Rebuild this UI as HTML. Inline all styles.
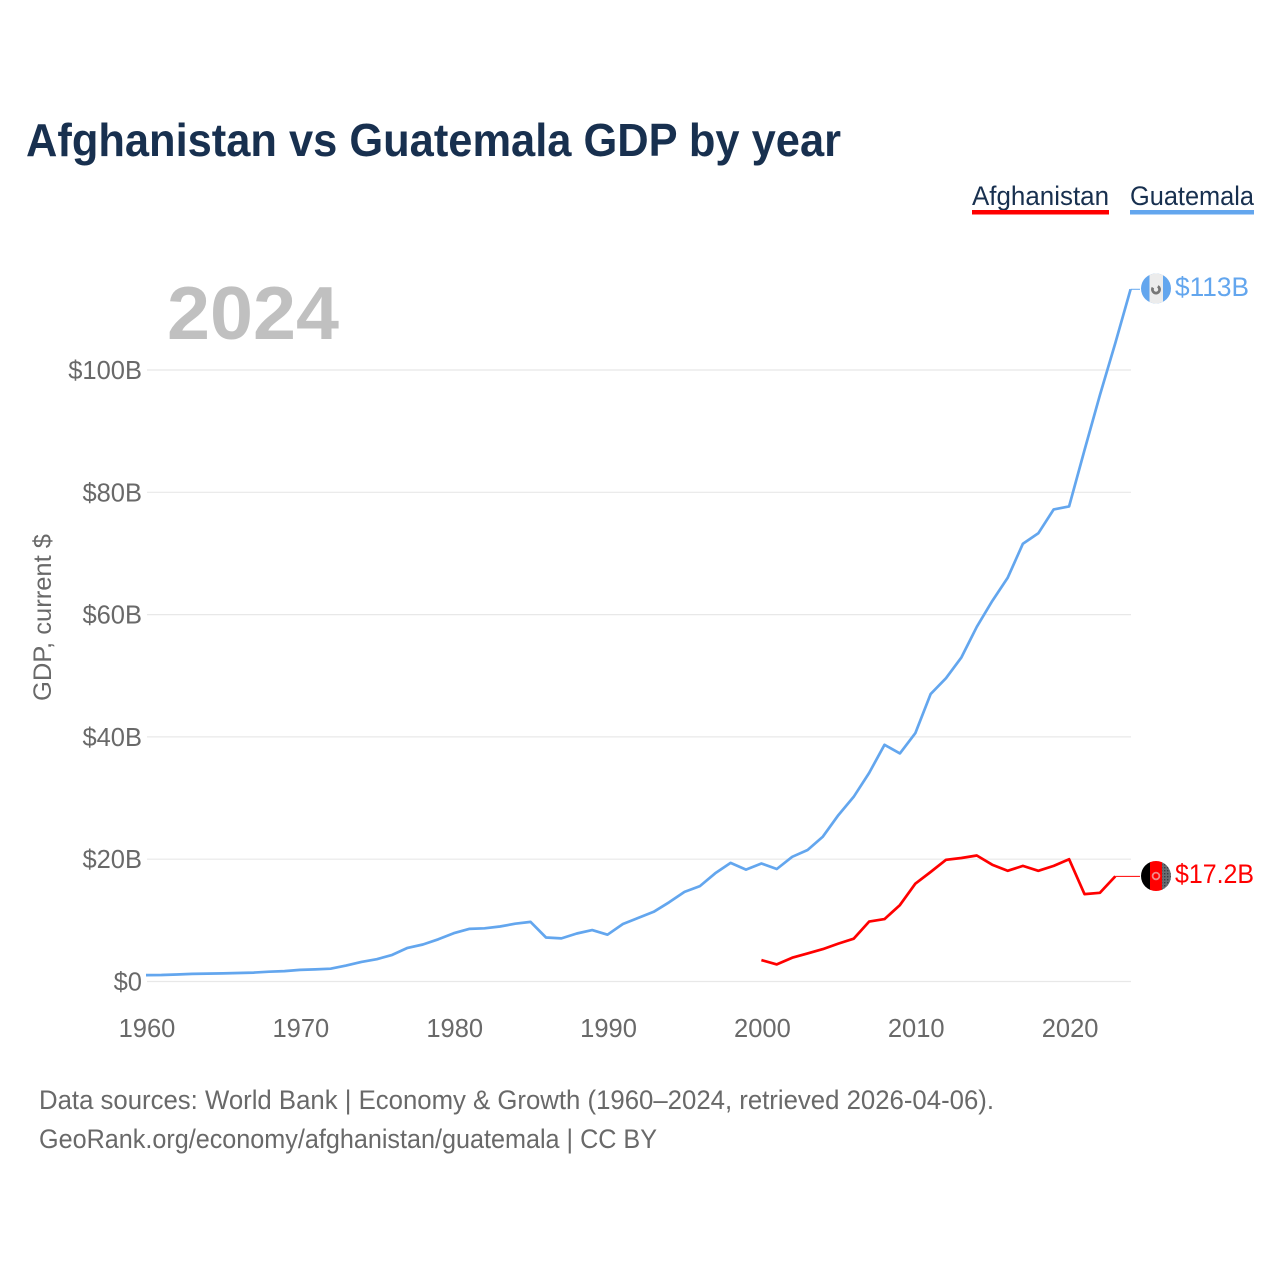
<!DOCTYPE html>
<html lang="en">
<head>
<meta charset="utf-8">
<title>Afghanistan vs Guatemala GDP by year</title>
<style>
html,body{margin:0;padding:0;background:#fff;width:1280px;height:1280px;overflow:hidden}
svg{display:block}
text{font-family:"Liberation Sans",sans-serif}
</style>
</head>
<body>
<svg id="chart" width="1280" height="1280" viewBox="0 0 1280 1280" xmlns="http://www.w3.org/2000/svg">
  <defs>
    <clipPath id="flag-clip-gt"><circle cx="1156" cy="288.5" r="15"/></clipPath>
    <clipPath id="flag-clip-af"><circle cx="1156" cy="876" r="15"/></clipPath>
    <pattern id="flag-dots" width="3" height="3" patternUnits="userSpaceOnUse"><rect width="3" height="3" fill="#6a6d72"/><rect width="1.4" height="1.4" fill="#3a3d44"/></pattern>
  </defs>
  <text x="26" y="156" font-size="46" font-weight="700" fill="#18304f" textLength="815" lengthAdjust="spacingAndGlyphs">Afghanistan vs Guatemala GDP by year</text>

  <g>
    <g>
      <text x="972" y="205" font-size="27" fill="#18304f" textLength="137" lengthAdjust="spacingAndGlyphs">Afghanistan</text>
      <rect x="972" y="210" width="137" height="4.5" fill="#ff0000"/>
    </g>
    <g>
      <text x="1130" y="205" font-size="27" fill="#18304f" textLength="124" lengthAdjust="spacingAndGlyphs">Guatemala</text>
      <rect x="1130" y="210" width="124" height="4.5" fill="#63a6ee"/>
    </g>
  </g>

  <text x="167" y="339" font-size="75" font-weight="700" fill="#c0c0c0" textLength="172" lengthAdjust="spacingAndGlyphs">2024</text>

  <text transform="translate(51,701) rotate(-90)" font-size="25" fill="#696969" textLength="167" lengthAdjust="spacingAndGlyphs">GDP, current $</text>

  <g id="grid"></g>
  <g id="yticks"></g>
  <g id="xticks"></g>
  <g id="series"></g>

  <g clip-path="url(#flag-clip-gt)">
    <rect x="1141" y="273" width="30" height="31" fill="#63a6ee"/>
    <rect x="1149.5" y="273" width="13.5" height="31" fill="#ececec"/>
    <circle cx="1156" cy="289.5" r="3.6" fill="none" stroke="#777" stroke-width="2.8" stroke-dasharray="17 6" transform="rotate(-60 1156 289.5)"/>
  </g>
  <g clip-path="url(#flag-clip-af)">
    <rect x="1141" y="861" width="9.5" height="30" fill="#000"/>
    <rect x="1150" y="861" width="12.5" height="30" fill="#ff0000"/>
    <rect x="1162" y="861" width="9" height="30" fill="url(#flag-dots)"/>
    <circle cx="1156" cy="876" r="3.4" fill="none" stroke="#f28a8a" stroke-width="1.8"/>
  </g>

  <text id="end-gt" x="1175" y="296" font-size="27" fill="#63a6ee" textLength="74" lengthAdjust="spacingAndGlyphs"></text>
  <text id="end-af" x="1175" y="883" font-size="27" fill="#ff0000" textLength="79" lengthAdjust="spacingAndGlyphs"></text>

  <text x="39" y="1109" font-size="27" fill="#696969" textLength="955" lengthAdjust="spacingAndGlyphs">Data sources: World Bank | Economy &amp; Growth (1960–2024, retrieved 2026-04-06).</text>
  <text x="39" y="1148" font-size="27" fill="#696969" textLength="618" lengthAdjust="spacingAndGlyphs">GeoRank.org/economy/afghanistan/guatemala | CC BY</text>
</svg>
<script>
const years = [1960,1961,1962,1963,1964,1965,1966,1967,1968,1969,1970,1971,1972,1973,1974,1975,1976,1977,1978,1979,1980,1981,1982,1983,1984,1985,1986,1987,1988,1989,1990,1991,1992,1993,1994,1995,1996,1997,1998,1999,2000,2001,2002,2003,2004,2005,2006,2007,2008,2009,2010,2011,2012,2013,2014,2015,2016,2017,2018,2019,2020,2021,2022,2023,2024];
const guatemalaGdp = [1.04,1.07,1.15,1.25,1.3,1.33,1.39,1.45,1.6,1.7,1.9,1.98,2.1,2.6,3.2,3.65,4.35,5.5,6.05,6.9,7.9,8.6,8.7,9.0,9.45,9.75,7.2,7.05,7.85,8.4,7.65,9.4,10.4,11.4,12.95,14.65,15.6,17.7,19.4,18.3,19.3,18.4,20.4,21.5,23.7,27.2,30.2,34.1,38.7,37.3,40.6,47,49.6,53,58,62.2,66,71.6,73.3,77.2,77.7,86.9,95.9,104.4,113.2];
const afghanistanYears = [2000,2001,2002,2003,2004,2005,2006,2007,2008,2009,2010,2011,2012,2013,2014,2015,2016,2017,2018,2019,2020,2021,2022,2023];
const afghanistanGdp = [3.5,2.8,3.9,4.6,5.3,6.2,7.0,9.8,10.2,12.5,16,17.9,19.9,20.2,20.6,19.1,18.1,18.9,18.1,18.9,20.0,14.3,14.5,17.2];
const yTickValues = [0,20,40,60,80,100];
const yTickLabels = ['$0','$20B','$40B','$60B','$80B','$100B'];
const xTickValues = [1960,1970,1980,1990,2000,2010,2020];
const endLabelGuatemala = '$113B';
const endLabelAfghanistan = '$17.2B';

const NS = 'http://www.w3.org/2000/svg';
const xScale = year => 146 + (year - 1960) * 15.385;
const yScale = value => 981.5 - value * 6.115;
const LEADER_END = 1140;

function make(tag, attrs, parent, text) {
  const el = document.createElementNS(NS, tag);
  Object.keys(attrs).forEach(k => el.setAttribute(k, attrs[k]));
  if (text !== undefined) el.textContent = text;
  parent.appendChild(el);
  return el;
}

const grid = document.getElementById('grid');
const yticks = document.getElementById('yticks');
const xticks = document.getElementById('xticks');
const series = document.getElementById('series');

yTickValues.forEach((v, i) => {
  const line = make('line', {x1: 147, x2: 1131, y1: yScale(v), y2: yScale(v), stroke: '#e8e8e8', 'stroke-width': 1.2}, grid);
  
  
  const label = make('text', {x: 142, y: yScale(v) + 9, 'text-anchor': 'end', 'font-size': 25.5, fill: '#696969'}, yticks, yTickLabels[i]);
  
  
});

xTickValues.forEach(v => {
  const label = make('text', {x: xScale(v) + 1, y: 1037, 'text-anchor': 'middle', 'font-size': 25.5, fill: '#696969'}, xticks, String(v));
  
  
});

function pointsFor(xs, ys) {
  return xs.map((x, i) => xScale(x).toFixed(1) + ',' + yScale(ys[i]).toFixed(1)).join(' ');
}

const lineGt = make('polyline', {points: pointsFor(years, guatemalaGdp), fill: 'none', stroke: '#63a6ee', 'stroke-width': 2.7, 'stroke-linejoin': 'round'}, series);



const lineAf = make('polyline', {points: pointsFor(afghanistanYears, afghanistanGdp), fill: 'none', stroke: '#ff0000', 'stroke-width': 2.7, 'stroke-linejoin': 'round'}, series);



const gtLastY = yScale(guatemalaGdp[guatemalaGdp.length - 1]);
const leaderGt = make('line', {x1: xScale(years[years.length - 1]), x2: LEADER_END, y1: gtLastY, y2: gtLastY, stroke: '#63a6ee', 'stroke-width': 1}, series);



const afLastY = yScale(afghanistanGdp[afghanistanGdp.length - 1]);
const leaderAf = make('line', {x1: xScale(afghanistanYears[afghanistanYears.length - 1]), x2: LEADER_END, y1: afLastY, y2: afLastY, stroke: '#ff0000', 'stroke-width': 1}, series);



document.getElementById('end-gt').textContent = endLabelGuatemala;
document.getElementById('end-af').textContent = endLabelAfghanistan;
</script>
</body>
</html>
